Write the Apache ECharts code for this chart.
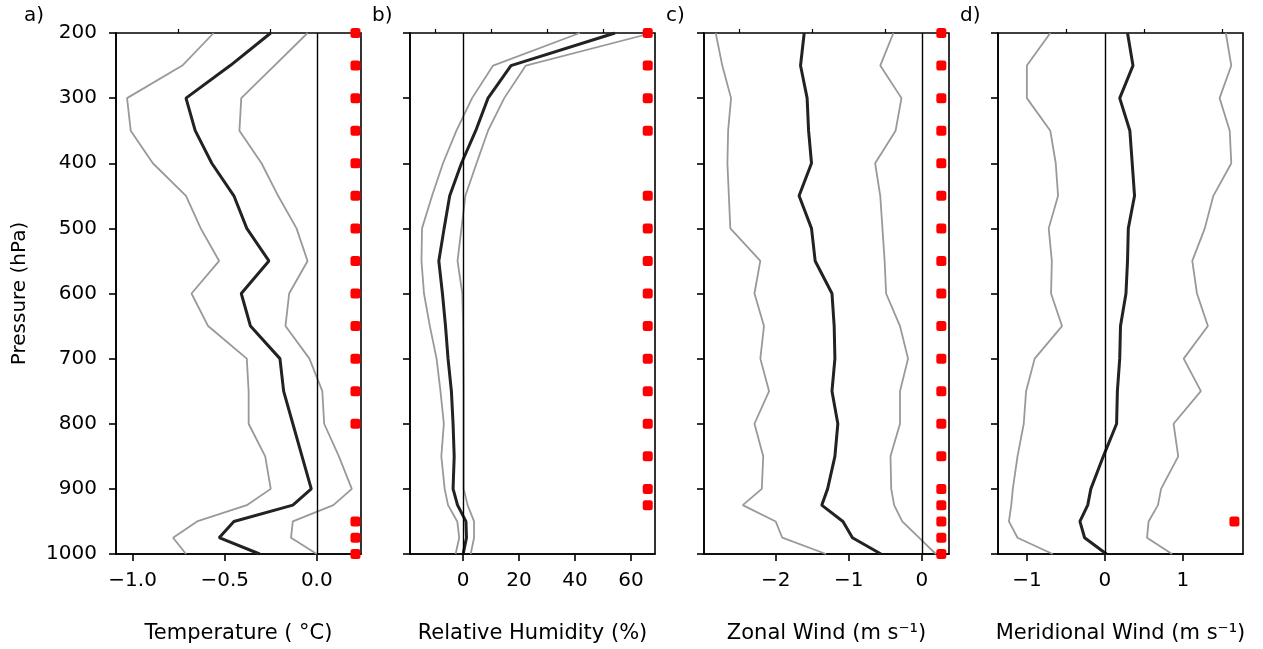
<!DOCTYPE html>
<html>
<head>
<meta charset="utf-8">
<script src="https://cdn.jsdelivr.net/npm/echarts@6/dist/echarts.min.js"></script>
<style>
html,body{margin:0;padding:0;background:#fff;}
#main{width:1263px;height:649px;}
</style>
</head>
<body>
<div id="main"></div>
<script>
// 气压层 (hPa)
var pressure = [200,250,300,350,400,450,500,550,600,650,700,750,800,850,900,925,950,975,1000];

// a) 温度
var tMean = [-0.25,-0.47,-0.71,-0.66,-0.57,-0.45,-0.38,-0.26,-0.41,-0.36,-0.20,-0.18,-0.13,-0.08,-0.03,-0.13,-0.45,-0.53,-0.31];
var tLow  = [-0.56,-0.73,-1.03,-1.01,-0.89,-0.71,-0.63,-0.53,-0.68,-0.59,-0.38,-0.37,-0.37,-0.28,-0.25,-0.38,-0.65,-0.78,-0.71];
var tHigh = [-0.05,-0.23,-0.41,-0.42,-0.30,-0.21,-0.11,-0.05,-0.15,-0.17,-0.04,0.03,0.04,0.12,0.19,0.09,-0.13,-0.14,0.0];
var tSig  = [200,250,300,350,400,450,500,550,600,650,700,750,800,950,975,1000];

// b) 相对湿度
var rhMean = [54.3,17.1,8.9,4.5,-0.6,-4.8,-6.8,-8.7,-7.4,-6.3,-5.4,-4.2,-3.6,-3.2,-3.6,-2.0,1.0,1.2,0.0];
var rhLow  = [41.7,10.7,3.2,-2.4,-7.2,-11.1,-14.7,-14.9,-14.0,-11.9,-9.5,-8.1,-6.9,-7.8,-6.6,-5.4,-2.1,-1.4,-2.7];
var rhHigh = [67.5,22.4,14.7,8.9,4.8,0.8,-0.6,-2.0,-0.3,0.0,0.1,0.2,0.2,0.2,0.2,1.6,3.9,3.9,2.7];
var rhSig  = [200,250,300,350,450,500,550,600,650,700,750,800,850,900,925];

// c) 纬向风
var uMean = [-1.61,-1.66,-1.57,-1.55,-1.51,-1.68,-1.51,-1.46,-1.23,-1.20,-1.19,-1.23,-1.15,-1.19,-1.29,-1.37,-1.08,-0.95,-0.56];
var uLow  = [-2.82,-2.73,-2.61,-2.65,-2.66,-2.64,-2.62,-2.21,-2.29,-2.16,-2.21,-2.09,-2.29,-2.17,-2.19,-2.45,-2.00,-1.91,-1.31];
var uHigh = [-0.39,-0.57,-0.28,-0.36,-0.64,-0.57,-0.54,-0.51,-0.49,-0.30,-0.19,-0.30,-0.30,-0.43,-0.42,-0.38,-0.27,-0.04,0.19];
var uSig  = pressure;

// d) 经向风
var vMean = [0.29,0.36,0.19,0.32,0.35,0.38,0.30,0.29,0.27,0.20,0.19,0.16,0.15,-0.02,-0.18,-0.22,-0.32,-0.26,0.02];
var vLow  = [-0.70,-1.00,-1.00,-0.70,-0.63,-0.60,-0.72,-0.68,-0.69,-0.55,-0.90,-1.01,-1.04,-1.12,-1.18,-1.20,-1.23,-1.12,-0.67];
var vHigh = [1.55,1.62,1.47,1.60,1.62,1.39,1.28,1.12,1.18,1.32,1.01,1.23,0.88,0.94,0.72,0.68,0.56,0.54,0.86];
var vSig  = [950];

// 显著性标记所在的横坐标
var sigX = [0.21, 66, 0.265, 1.66];

// 坐标轴刻度
var majorTicks = [[-1,-0.5,0],[0,20,40,60],[-2,-1,0],[-1,0,1]];
var minorTicks = [[-0.75,-0.25],[-10,10,30,50],[-2.5,-1.5,-0.5],[-0.5,0.5,1.5]];
var xRange = [[-1.09,0.24],[-19,68.6],[-2.98,0.37],[-1.37,1.77]];
var xNames = ['Temperature ( \u00b0C)','Relative Humidity (%)','Zonal Wind (m s\u207b\u00b9)','Meridional Wind (m s\u207b\u00b9)'];
var panelTags = ['a)','b)','c)','d)'];

var means = [tMean, rhMean, uMean, vMean];
var lows = [tLow, rhLow, uLow, vLow];
var highs = [tHigh, rhHigh, uHigh, vHigh];
var sigs = [tSig, rhSig, uSig, vSig];

var FONT = 'DejaVu Sans';
var gridLeft = [116, 410, 704, 998];
var tagLeft = [24, 372, 666, 960];

function pairs(xs) {
    var out = [];
    for (var i = 0; i < xs.length; i++) out.push([xs[i], pressure[i]]);
    return out;
}
function minus(s) { return String(s).replace('-', '\u2212'); }

var myChart = echarts.init(document.getElementById('main'), null, {renderer: 'canvas'});

var grid = [], xAxis = [], yAxis = [], series = [], graphic = [];
for (var k = 0; k < 4; k++) {
    grid.push({left: gridLeft[k], top: 33, width: 245, height: 527,
        show: true, borderColor: '#000', borderWidth: 1.6, backgroundColor: 'transparent'});
    var fmt = (k == 0) ? function (v) { return minus(v.toFixed(1)); } : function (v) { return minus(v); };
    // 主刻度 + 标签
    xAxis.push({
        type: 'value', gridIndex: k, min: xRange[k][0], max: xRange[k][1],
        name: xNames[k], nameLocation: 'middle', nameGap: 69,
        nameTextStyle: {fontFamily: FONT, fontSize: 21, color: '#000'},
        axisLine: {show: true, onZero: false, lineStyle: {color: '#000', width: 1.6}},
        axisTick: {show: true, length: 7, lineStyle: {color: '#000', width: 1.6}, customValues: majorTicks[k]},
        axisLabel: {fontFamily: FONT, fontSize: 20, color: '#000', margin: 17, formatter: fmt, customValues: majorTicks[k]},
        splitLine: {show: false}
    });
    // 次刻度
    xAxis.push({
        type: 'value', gridIndex: k, min: xRange[k][0], max: xRange[k][1],
        axisLine: {show: false, onZero: false},
        axisTick: {show: true, length: 4, lineStyle: {color: '#000', width: 1.2}, customValues: minorTicks[k]},
        axisLabel: {show: false, customValues: minorTicks[k]},
        splitLine: {show: false}
    });
    yAxis.push({
        type: 'value', gridIndex: k, min: 200, max: 1000, interval: 100, inverse: true,
        name: k == 0 ? 'Pressure (hPa)' : '', nameLocation: 'middle', nameGap: 86,
        nameTextStyle: {fontFamily: FONT, fontSize: 20, color: '#000'},
        axisLine: {show: true, onZero: false, lineStyle: {color: '#000', width: 1.6}},
        axisTick: {show: true, length: 7, lineStyle: {color: '#000', width: 1.6}},
        axisLabel: {show: k == 0, fontFamily: FONT, fontSize: 20, color: '#000', margin: 19,
            formatter: function (v) { return String(v); }},
        splitLine: {show: false}
    });
    // 零线
    series.push({
        type: 'line', xAxisIndex: 2 * k, yAxisIndex: k, data: [], silent: true,
        markLine: {symbol: 'none', silent: true, label: {show: false},
            lineStyle: {color: '#000', width: 1.4, type: 'solid'},
            data: [{xAxis: 0}]}
    });
    series.push({type: 'line', xAxisIndex: 2 * k, yAxisIndex: k, data: pairs(lows[k]),
        showSymbol: false, symbol: 'none', lineStyle: {color: '#999', width: 1.8}, z: 3});
    series.push({type: 'line', xAxisIndex: 2 * k, yAxisIndex: k, data: pairs(highs[k]),
        showSymbol: false, symbol: 'none', lineStyle: {color: '#999', width: 1.8}, z: 3});
    series.push({type: 'line', xAxisIndex: 2 * k, yAxisIndex: k, data: pairs(means[k]),
        showSymbol: false, symbol: 'none', lineStyle: {color: '#222', width: 3}, z: 4});
    var sd = [];
    for (var j = 0; j < sigs[k].length; j++) sd.push([sigX[k], sigs[k][j]]);
    series.push({type: 'scatter', xAxisIndex: 2 * k, yAxisIndex: k, data: sd,
        symbol: 'roundRect', symbolSize: 10, itemStyle: {color: '#ff0000', opacity: 1}, z: 5});

    graphic.push({type: 'text', left: tagLeft[k], top: 6,
        style: {text: panelTags[k], font: '20px "DejaVu Sans"', fill: '#000'}});
}

option = {
    animation: false,
    backgroundColor: '#fff',
    grid: grid,
    xAxis: xAxis,
    yAxis: yAxis,
    series: series,
    graphic: graphic
};

if (option && typeof option === "object") {
    myChart.setOption(option, true);
}
</script>
</body>
</html>
